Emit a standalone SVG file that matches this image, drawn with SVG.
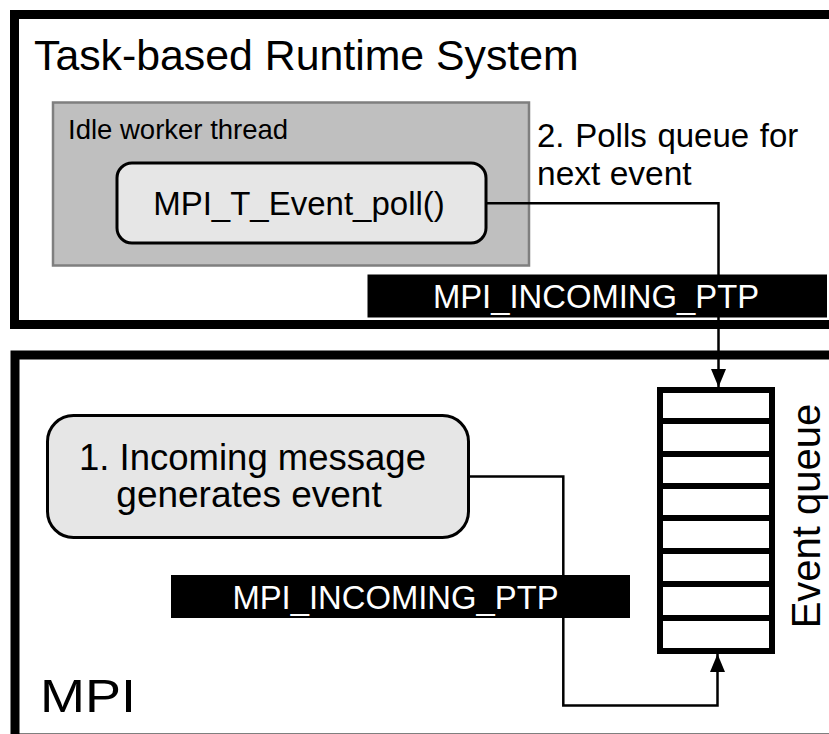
<svg xmlns="http://www.w3.org/2000/svg" width="829" height="734" viewBox="0 0 829 734">
  <defs>
    <style>
      text { font-family: "Liberation Sans", Arial, sans-serif; fill: #000; }
      .frame { fill: none; stroke: #000; stroke-width: 9; }
      .wire { fill: none; stroke: #000; stroke-width: 2.5; }
      .round { fill: #e6e6e6; stroke: #000; stroke-width: 3; }
      .tag { fill: #000; }
      .tagtext { fill: #fff; font-size: 32.8px; text-anchor: middle; }
      .cell { stroke: #000; stroke-width: 6; }
    </style>
    <marker id="arrow" viewBox="0 0 18 15" refX="18" refY="7.5" markerWidth="18" markerHeight="15" markerUnits="userSpaceOnUse" orient="auto">
      <path d="M0,0 L18,7.5 L0,15 Z" fill="#000"/>
    </marker>
  </defs>

  <rect width="829" height="734" fill="#fff"/>

  <!-- Runtime system container (open to the right) -->
  <g id="runtime">
    <path class="frame" d="M840,14.5 H14.5 V324.5 H840"/>
    <text x="34" y="70" font-size="42.8">Task-based Runtime System</text>
  </g>

  <!-- MPI container (open to the right) -->
  <g id="mpi">
    <path class="frame" d="M840,355 H15 V738 H840"/>
    <text x="40" y="711.5" font-size="46" textLength="96" lengthAdjust="spacingAndGlyphs">MPI</text>
  </g>

  <!-- Idle worker thread -->
  <g id="worker">
    <rect x="53" y="102.5" width="476" height="163" fill="#bfbfbf" stroke="#7f7f7f" stroke-width="2.5"/>
    <text x="68" y="138.5" font-size="27.5">Idle worker thread</text>
  </g>

  <g id="poll">
    <rect class="round" x="117" y="163" width="369" height="80" rx="15"/>
    <text x="299" y="214.5" font-size="33" text-anchor="middle">MPI_T_Event_poll()</text>
  </g>

  <g id="poll-note">
    <text x="537" y="146.7" font-size="33" word-spacing="1.5">2. Polls queue for</text>
    <text x="537" y="185" font-size="33.5">next event</text>
  </g>

  <g id="incoming">
    <rect class="round" x="47.5" y="415.5" width="421" height="122" rx="26"/>
    <text x="252.5" y="470" font-size="36.5" text-anchor="middle">1. Incoming message</text>
    <text x="249" y="507" font-size="37" text-anchor="middle">generates event</text>
  </g>

  <!-- Event queue: eight slots -->
  <g id="queue">
    <rect x="660" y="390" width="112" height="261" fill="#fff" class="cell"/>
    <path class="cell" d="M660,421 H772 M660,454 H772 M660,486 H772 M660,518 H772 M660,551 H772 M660,584 H772 M660,618 H772"/>
    <text transform="translate(820,516) rotate(-90)" font-size="40" text-anchor="middle">Event queue</text>
  </g>

  <!-- Connectors -->
  <g id="connectors">
    <path class="wire" d="M486,203.3 H718.5 V387" marker-end="url(#arrow)"/>
    <path class="wire" d="M468.5,476.5 H563.3 V705.5 H717.5 V654" marker-end="url(#arrow)"/>
  </g>

  <!-- Event type tags on the connectors -->
  <g id="tag-top">
    <rect class="tag" x="367.5" y="274.5" width="459.5" height="43"/>
    <text class="tagtext" x="596" y="307.7">MPI_INCOMING_PTP</text>
  </g>
  <g id="tag-bottom">
    <rect class="tag" x="171" y="575" width="459" height="43"/>
    <text class="tagtext" x="395.5" y="609.3">MPI_INCOMING_PTP</text>
  </g>
</svg>
